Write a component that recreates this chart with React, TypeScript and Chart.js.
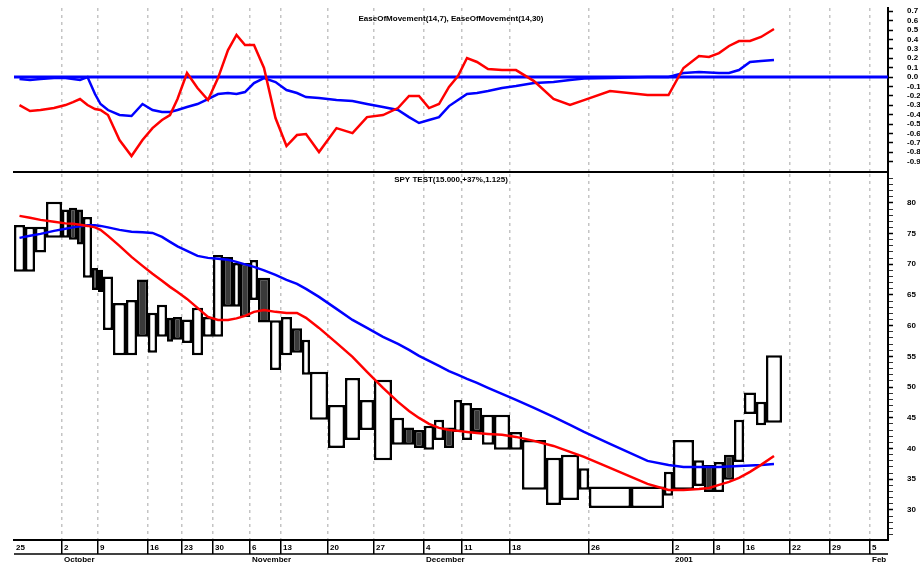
import React, { useEffect, useRef } from 'react';
import { Chart, registerables, BarController } from 'chart.js';

// Equivolume boxes: width of each box comes from its volume on a linear x scale
class VolumeBarController extends BarController {
  static id = 'volumeBar';
  _calculateBarIndexPixels(index: number) {
    const self: any = this;
    const scale = self._cachedMeta.iScale;
    const raw = self.getDataset().data[index];
    const left = scale.getPixelForValue(raw.x0);
    const right = scale.getPixelForValue(raw.x1);
    return { base: left, head: right, center: (left + right) / 2, size: right - left };
  }
}
Chart.register(...registerables, VolumeBarController);

// ---------------- data ----------------
const volumes = [11, 10, 11, 16, 7, 8, 6, 9, 6, 5, 10, 13, 11, 11, 9, 10, 6, 9, 10, 11, 10, 10, 10, 7, 10, 8, 12, 11, 11, 10, 8, 18, 17, 15, 14, 18, 12, 10, 10, 10, 10, 10, 8, 10, 10, 12, 16, 12, 24, 15, 18, 10, 42, 33, 9, 21, 10, 10, 10, 10, 10, 12, 10, 16];
const highs = [76.4, 76.1, 76.1, 80.2, 78.9, 79.2, 78.9, 77.7, 69.4, 69.1, 68.0, 63.7, 64.2, 67.5, 62.1, 63.4, 61.3, 61.4, 61.0, 62.9, 61.4, 71.5, 71.2, 70.2, 70.2, 70.7, 67.8, 60.9, 61.4, 59.6, 57.7, 52.5, 47.1, 51.5, 47.9, 51.2, 45.0, 43.4, 43.0, 43.7, 44.7, 43.4, 47.9, 47.4, 46.6, 45.5, 45.5, 42.7, 41.4, 38.5, 39.0, 36.8, 33.8, 33.8, 36.2, 41.4, 38.1, 37.3, 37.8, 39.0, 44.7, 49.1, 47.6, 55.2];
const lows = [68.8, 68.8, 71.9, 74.3, 74.3, 74.0, 73.2, 67.8, 65.8, 65.5, 59.3, 55.2, 55.2, 58.2, 55.6, 58.2, 57.4, 57.7, 57.2, 55.2, 58.2, 58.2, 63.1, 63.1, 61.4, 64.2, 60.5, 52.8, 55.2, 55.6, 52.0, 44.7, 40.1, 41.4, 43.0, 38.1, 40.6, 40.6, 40.1, 39.8, 41.4, 40.1, 42.7, 41.4, 42.7, 40.6, 39.8, 39.8, 33.3, 30.8, 31.6, 33.3, 30.3, 30.3, 32.3, 33.3, 33.9, 32.9, 32.9, 34.9, 37.8, 45.6, 43.8, 44.2];
const downDay = [0, 0, 0, 0, 0, 1, 1, 0, 1, 1, 0, 0, 0, 1, 0, 0, 1, 1, 0, 0, 0, 0, 1, 0, 1, 0, 1, 0, 0, 1, 0, 0, 0, 0, 0, 0, 0, 1, 1, 0, 0, 1, 0, 0, 1, 0, 0, 0, 0, 0, 0, 0, 0, 0, 0, 0, 0, 1, 0, 1, 0, 0, 0, 0];
const maFast = [77.88, 77.56, 77.23, 76.91, 76.66, 76.58, 76.42, 76.25, 76.01, 75.6, 74.63, 73.0, 71.21, 69.74, 68.44, 67.3, 66.32, 65.5, 64.36, 62.9, 61.43, 60.94, 60.94, 61.19, 61.6, 62.25, 62.57, 62.25, 62.08, 62.08, 61.27, 59.64, 57.2, 54.92, 52.48, 49.87, 47.59, 46.12, 44.98, 44.01, 43.36, 43.03, 42.87, 42.7, 42.54, 42.38, 42.22, 41.89, 41.24, 40.42, 39.45, 38.63, 36.84, 34.23, 33.26, 33.26, 33.42, 33.58, 34.07, 34.56, 35.21, 36.19, 37.33, 38.79];
const maSlow = [74.3, 74.63, 74.95, 75.44, 75.77, 76.01, 76.17, 76.34, 76.34, 76.25, 76.01, 75.6, 75.28, 75.2, 75.11, 74.46, 73.65, 72.92, 72.18, 71.37, 71.04, 70.88, 70.72, 70.39, 69.98, 69.58, 69.01, 68.27, 67.46, 66.81, 65.99, 64.69, 62.74, 60.94, 59.64, 58.18, 57.04, 56.06, 55.08, 54.27, 53.45, 52.61, 51.99, 51.34, 50.68, 49.87, 48.89, 47.92, 46.61, 45.15, 43.84, 42.7, 40.75, 37.98, 37.33, 37.0, 37.0, 37.0, 37.0, 37.08, 37.17, 37.25, 37.33, 37.49];
const eomFast = [-0.298, -0.362, -0.351, -0.33, -0.298, -0.266, -0.234, -0.298, -0.34, -0.351, -0.404, -0.67, -0.84, -0.67, -0.543, -0.457, -0.404, -0.234, 0.043, -0.117, -0.245, -0.011, 0.287, 0.447, 0.34, 0.34, 0.096, -0.436, -0.734, -0.617, -0.606, -0.798, -0.543, -0.596, -0.426, -0.404, -0.33, -0.202, -0.202, -0.33, -0.287, -0.106, 0.011, 0.202, 0.16, 0.085, 0.074, 0.074, -0.043, -0.234, -0.298, -0.245, -0.149, -0.191, -0.191, 0.096, 0.223, 0.213, 0.255, 0.33, 0.383, 0.383, 0.426, 0.511];
const eomSlow = [-0.021, -0.032, -0.021, -0.011, -0.011, -0.021, -0.032, 0.0, -0.181, -0.287, -0.351, -0.404, -0.415, -0.287, -0.351, -0.372, -0.372, -0.351, -0.319, -0.287, -0.234, -0.181, -0.17, -0.181, -0.16, -0.064, -0.011, -0.053, -0.138, -0.17, -0.213, -0.223, -0.245, -0.255, -0.287, -0.319, -0.351, -0.426, -0.489, -0.457, -0.426, -0.309, -0.245, -0.181, -0.17, -0.149, -0.117, -0.096, -0.064, -0.053, -0.032, -0.016, -0.011, 0.0, 0.0, 0.043, 0.053, 0.048, 0.043, 0.043, 0.074, 0.16, 0.17, 0.181];
const zeroLevel = [0, 0];

const dayLabels = ['25', '2', '9', '16', '23', '30', '6', '13', '20', '27', '4', '11', '18', '26', '2', '8', '16', '22', '29', '5'];
const monthLabels = ['', 'October', '', '', '', '', 'November', '', '', '', 'December', '', '', '', '2001', '', '', '', '', 'Feb'];
const tickBarIndex = [0, 4, 9, 14, 18, 21, 25, 28, 32, 35, 39, 43, 47, 52, 55, 58, 61];
const futureTickDays = [1, 6, 11];
const projectedDailyVolume = 8;
const priceTickLabels = [80, 75, 70, 65, 60, 55, 50, 45, 40, 35, 30];
const eomTickLabels = [0.7, 0.6, 0.5, 0.4, 0.3, 0.2, 0.1, 0, -0.1, -0.2, -0.3, -0.4, -0.5, -0.6, -0.7, -0.8, -0.9];

const topTitle = 'EaseOfMovement(14,7), EaseOfMovement(14,30)';
const bottomTitle = 'SPY TEST(15.000,+37%,1.125)';

// axis ranges
const X_MIN = 0;
const X_MAX = 874;
const EOM_MIN = -1.01;
const EOM_MAX = 0.734;
const PRICE_MIN = 25.1;
const PRICE_MAX = 84.7;

// ---------------- derived ----------------
const starts: number[] = [];
let acc = 0;
for (const v of volumes) {
  starts.push(acc);
  acc += v;
}
const totalVolume = acc;
const centers = volumes.map((v, i) => starts[i] + v / 2);
const xTickValues = [
  ...tickBarIndex.map((i) => starts[i]),
  ...futureTickDays.map((d) => totalVolume + d * projectedDailyVolume),
];
const priceMinorTicks: number[] = [];
for (let v = Math.ceil(PRICE_MIN); v <= Math.floor(PRICE_MAX); v++) priceMinorTicks.push(v);

const toXY = (arr: number[]) => arr.map((y, i) => ({ x: centers[i], y }));
const boxes = volumes.map((v, i) => ({
  x: centers[i],
  x0: starts[i],
  x1: starts[i] + v,
  y: [lows[i], highs[i]],
}));

const FONT = '"Liberation Sans", Arial, sans-serif';

const titlePlugin = (text: string, offset: number) => ({
  id: 'panelTitle',
  afterDraw(chart: any) {
    const { ctx, chartArea } = chart;
    ctx.save();
    ctx.font = `bold 8px ${FONT}`;
    ctx.fillStyle = '#000';
    ctx.textAlign = 'center';
    ctx.textBaseline = 'middle';
    ctx.fillText(text, (chartArea.left + chartArea.right) / 2, chartArea.top + offset);
    ctx.restore();
  },
});

const stripPlugin = {
  id: 'dateStrip',
  afterDraw(chart: any) {
    const { ctx, chartArea } = chart;
    ctx.save();
    ctx.strokeStyle = '#000';
    ctx.lineWidth = 1.5;
    ctx.beginPath();
    ctx.moveTo(chartArea.left, chartArea.bottom + 14);
    ctx.lineTo(chartArea.right, chartArea.bottom + 14);
    ctx.stroke();
    ctx.restore();
  },
};

const xScale = (showLabels: boolean): any => ({
  type: 'linear',
  min: X_MIN,
  max: X_MAX,
  offset: false,
  afterBuildTicks: (s: any) => {
    s.ticks = xTickValues.map((v) => ({ value: v }));
  },
  afterFit: (s: any) => {
    s.height = showLabels ? 25 : 0;
    s.paddingLeft = 0;
    s.paddingRight = 0;
  },
  grid: {
    display: true,
    offset: false,
    drawOnChartArea: true,
    drawTicks: showLabels,
    tickLength: 14,
    lineWidth: 1.5,
    color: (c: any) => (c.index === 0 ? 'rgba(0,0,0,0)' : '#c4c4c4'),
    tickColor: (c: any) => (c.index === 0 ? 'rgba(0,0,0,0)' : '#000'),
    tickWidth: 1.5,
    tickBorderDash: [],
  },
  border: { display: true, color: '#000', width: 2, dash: [3, 4] },
  ticks: {
    display: showLabels,
    autoSkip: false,
    maxRotation: 0,
    minRotation: 0,
    align: 'start',
    labelOffset: 2,
    padding: -12,
    color: '#000',
    font: { family: FONT, size: 8, weight: 'bold', lineHeight: 1.5 },
    callback: (_v: any, i: number) => [dayLabels[i], monthLabels[i]],
  },
});

const yAfterFit = (s: any) => {
  s.width = 32;
  s.paddingTop = 0;
  s.paddingBottom = 0;
};

const lineDs = (data: any[], color: string, width: number, order: number) => ({
  type: 'line',
  data,
  borderColor: color,
  borderWidth: width,
  pointRadius: 0,
  tension: 0,
  fill: false,
  order,
});

export default function App() {
  const topRef = useRef<HTMLCanvasElement>(null);
  const botRef = useRef<HTMLCanvasElement>(null);

  useEffect(() => {
    Chart.defaults.font.family = FONT;
    const common: any = {
      responsive: false,
      animation: false,
      events: [],
      plugins: { legend: { display: false }, tooltip: { enabled: false } },
    };

    const top = new Chart(topRef.current as HTMLCanvasElement, {
      type: 'line',
      data: {
        datasets: [
          lineDs([{ x: X_MIN, y: zeroLevel[0] }, { x: X_MAX, y: zeroLevel[1] }], '#0000ff', 3, 3),
          lineDs(toXY(eomSlow), '#0000ff', 2.5, 2),
          lineDs(toXY(eomFast), '#ff0000', 2.5, 1),
        ] as any,
      },
      options: {
        ...common,
        layout: { padding: { top: 8, bottom: 6, left: 14, right: 0 } },
        scales: {
          x: xScale(false),
          y: {
            type: 'linear',
            position: 'right',
            min: EOM_MIN,
            max: EOM_MAX,
            beginAtZero: false,
            afterBuildTicks: (s: any) => {
              s.ticks = eomTickLabels.map((v) => ({ value: v }));
            },
            afterFit: yAfterFit,
            grid: { drawOnChartArea: false, drawTicks: true, tickLength: 5, tickColor: '#000', tickWidth: 1.5 },
            border: { display: true, color: '#000', width: 2 },
            ticks: {
              autoSkip: false,
              padding: 14,
              color: '#000',
              font: { family: FONT, size: 8, weight: 'bold' },
              callback: (v: any) => (Math.round(Number(v) * 10) / 10).toFixed(1),
            },
          },
        },
      },
      plugins: [titlePlugin(topTitle, 11)],
    } as any);

    const bottom = new Chart(botRef.current as HTMLCanvasElement, {
      type: 'line',
      data: {
        datasets: [
          {
            type: 'volumeBar',
            data: boxes,
            backgroundColor: downDay.map((d) => (d ? '#3a3a3a' : '#ffffff')),
            borderColor: '#000',
            borderWidth: 2.5,
            borderSkipped: false,
            order: 3,
          },
          lineDs(toXY(maSlow), '#0000ff', 2.5, 2),
          lineDs(toXY(maFast), '#ff0000', 2.5, 1),
        ] as any,
      },
      options: {
        ...common,
        layout: { padding: { top: 6, bottom: 0, left: 14, right: 0 } },
        scales: {
          x: xScale(true),
          y: {
            type: 'linear',
            position: 'right',
            min: PRICE_MIN,
            max: PRICE_MAX,
            beginAtZero: false,
            afterBuildTicks: (s: any) => {
              s.ticks = priceMinorTicks.map((v) => ({ value: v }));
            },
            afterFit: yAfterFit,
            grid: {
              drawOnChartArea: false,
              drawTicks: true,
              tickLength: 5,
              tickColor: '#000',
              tickWidth: (c: any) => (priceTickLabels.includes(c.tick?.value) ? 1.5 : 0.8),
            },
            border: { display: true, color: '#000', width: 2 },
            ticks: {
              autoSkip: false,
              padding: 14,
              color: '#000',
              font: { family: FONT, size: 8, weight: 'bold' },
              callback: (v: any) => (priceTickLabels.includes(Number(v)) ? String(v) : ''),
            },
          },
        },
      },
      plugins: [titlePlugin(bottomTitle, 6), stripPlugin],
    } as any);

    return () => {
      top.destroy();
      bottom.destroy();
    };
  }, []);

  return (
    <div style={{ position: 'absolute', left: 0, top: 0, width: 920, height: 565, background: '#fff' }}>
      <canvas ref={topRef} width={920} height={178} style={{ position: 'absolute', left: 0, top: 0 }} />
      <canvas ref={botRef} width={920} height={397} style={{ position: 'absolute', left: 0, top: 168 }} />
    </div>
  );
}
